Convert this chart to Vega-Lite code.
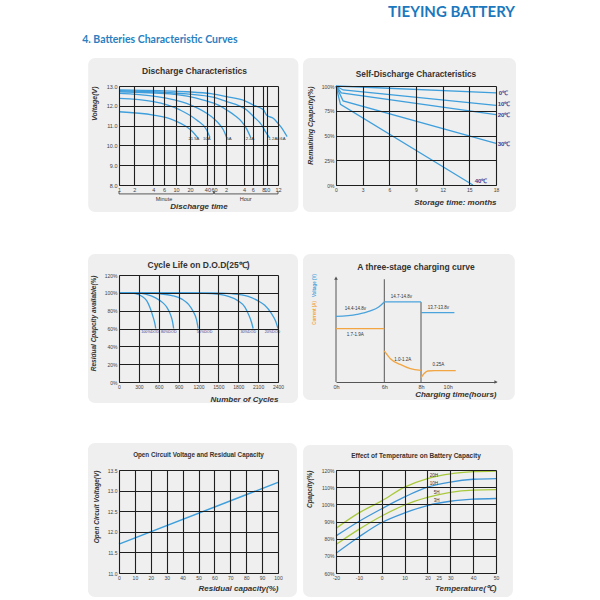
{
"$schema": "https://vega.github.io/schema/vega-lite/v6.json",
"background": "white",
"padding": {"left": 82, "top": 5, "right": 5, "bottom": 0},
"title": {"text": "TIEYING BATTERY", "anchor": "end", "frame": "bounds", "offset": -0.5, "dx": -1, "fontSize": 15, "font": "Lato", "fontWeight": "bold", "color": "#1b78be", "baseline": "bottom"},
"spacing": 40,
"datasets": {
"discharge": [
{"curve":"0.6A","min":1,"v":12.80},{"curve":"0.6A","min":5,"v":12.76},{"curve":"0.6A","min":16.9,"v":12.71},{"curve":"0.6A","min":50,"v":12.61},{"curve":"0.6A","min":123,"v":12.46},{"curve":"0.6A","min":250,"v":12.25},{"curve":"0.6A","min":366,"v":12.04},{"curve":"0.6A","min":480,"v":11.80},{"curve":"0.6A","min":600,"v":11.52},{"curve":"0.6A","min":670,"v":11.36},{"curve":"0.6A","min":730,"v":11.06},{"curve":"0.6A","min":768,"v":10.86},{"curve":"0.6A","min":800,"v":10.66},{"curve":"0.6A","min":835,"v":10.44},
{"curve":"1.2A","min":1,"v":12.76},{"curve":"1.2A","min":16.9,"v":12.60},{"curve":"1.2A","min":60,"v":12.42},{"curve":"1.2A","min":123,"v":12.21},{"curve":"1.2A","min":200,"v":12.00},{"curve":"1.2A","min":272,"v":11.79},{"curve":"1.2A","min":370,"v":11.45},{"curve":"1.2A","min":458,"v":11.03},{"curve":"1.2A","min":540,"v":10.72},{"curve":"1.2A","min":627,"v":10.39},
{"curve":"2.4A","min":1,"v":12.71},{"curve":"2.4A","min":7.75,"v":12.60},{"curve":"2.4A","min":34.1,"v":12.29},{"curve":"2.4A","min":80,"v":12.02},{"curve":"2.4A","min":123,"v":11.79},{"curve":"2.4A","min":170,"v":11.50},{"curve":"2.4A","min":219,"v":11.20},{"curve":"2.4A","min":270,"v":10.85},{"curve":"2.4A","min":328,"v":10.40},
{"curve":"5A","min":1,"v":12.63},{"curve":"5A","min":4,"v":12.49},{"curve":"5A","min":16.9,"v":12.12},{"curve":"5A","min":38.9,"v":11.62},{"curve":"5A","min":60,"v":11.35},{"curve":"5A","min":84.9,"v":11.03},{"curve":"5A","min":105,"v":10.75},{"curve":"5A","min":123,"v":10.40},
{"curve":"10A","min":1,"v":12.37},{"curve":"10A","min":4,"v":12.21},{"curve":"10A","min":12.2,"v":11.79},{"curve":"10A","min":26.1,"v":11.28},{"curve":"10A","min":38.9,"v":10.78},{"curve":"10A","min":46.9,"v":10.40},
{"curve":"21.5A","min":1,"v":11.70},{"curve":"21.5A","min":4,"v":11.53},{"curve":"21.5A","min":9,"v":11.28},{"curve":"21.5A","min":16.9,"v":10.94},{"curve":"21.5A","min":22,"v":10.70},{"curve":"21.5A","min":27.1,"v":10.39}
],
"dlabels": [
{"t":"21.5A","min":23.4,"v":10.34},{"t":"10A","min":38.9,"v":10.34},{"t":"5A","min":134.6,"v":10.34},{"t":"2.4A","min":317,"v":10.34},{"t":"1.2A","min":663,"v":10.34},{"t":"0.6A","min":758,"v":10.34}
],
"dunits": [{"t":"Minute","min":6,"v":7.29},{"t":"Hour","min":260,"v":7.29}],
"dbracket": [{"a":1,"b":58,"v":7.55},{"a":62,"b":720,"v":7.55}],
"dbticks": [{"min":1,"v":7.55,"v2":7.68},{"min":58,"v":7.55,"v2":7.68},{"min":62,"v":7.55,"v2":7.68},{"min":720,"v":7.55,"v2":7.68}],
"selfdis": [
{"temp":"0℃","m":0,"pct":100},{"temp":"0℃","m":18,"pct":93},
{"temp":"10℃","m":0,"pct":100},{"temp":"10℃","m":0.8,"pct":96},{"temp":"10℃","m":18,"pct":80.5},
{"temp":"20℃","m":0,"pct":100},{"temp":"20℃","m":0.6,"pct":93},{"temp":"20℃","m":18,"pct":71},
{"temp":"30℃","m":0,"pct":100},{"temp":"30℃","m":0.8,"pct":85},{"temp":"30℃","m":18,"pct":42},
{"temp":"40℃","m":0,"pct":100},{"temp":"40℃","m":0.5,"pct":81.5},{"temp":"40℃","m":15.4,"pct":0}
],
"slabels": [
{"t":"0℃","m":18.3,"pct":93.2},{"t":"10℃","m":18.2,"pct":81.5},{"t":"20℃","m":18.2,"pct":70.5},{"t":"30℃","m":18.2,"pct":41.4},{"t":"40℃","m":15.6,"pct":4.2}
],
"cycle": [
{"dod":"100%","n":0,"pct":100},{"dod":"100%","n":150,"pct":100},{"dod":"100%","n":250,"pct":99},{"dod":"100%","n":350,"pct":96},{"dod":"100%","n":420,"pct":91},{"dod":"100%","n":470,"pct":83},{"dod":"100%","n":510,"pct":74},{"dod":"100%","n":540,"pct":66},{"dod":"100%","n":555,"pct":60},
{"dod":"80%","n":0,"pct":100},{"dod":"80%","n":250,"pct":100},{"dod":"80%","n":400,"pct":98.5},{"dod":"80%","n":560,"pct":94},{"dod":"80%","n":660,"pct":89},{"dod":"80%","n":720,"pct":84},{"dod":"80%","n":780,"pct":75},{"dod":"80%","n":810,"pct":67},{"dod":"80%","n":825,"pct":60},
{"dod":"50%","n":0,"pct":100},{"dod":"50%","n":400,"pct":100},{"dod":"50%","n":600,"pct":99},{"dod":"50%","n":800,"pct":97},{"dod":"50%","n":950,"pct":93},{"dod":"50%","n":1050,"pct":87},{"dod":"50%","n":1120,"pct":79},{"dod":"50%","n":1170,"pct":70},{"dod":"50%","n":1195,"pct":60},
{"dod":"30%","n":0,"pct":100},{"dod":"30%","n":1000,"pct":100},{"dod":"30%","n":1400,"pct":99},{"dod":"30%","n":1650,"pct":96},{"dod":"30%","n":1800,"pct":91},{"dod":"30%","n":1900,"pct":84},{"dod":"30%","n":1960,"pct":75},{"dod":"30%","n":2000,"pct":67},{"dod":"30%","n":2025,"pct":60},
{"dod":"20%","n":0,"pct":100},{"dod":"20%","n":1400,"pct":100},{"dod":"20%","n":1700,"pct":99},{"dod":"20%","n":1950,"pct":96},{"dod":"20%","n":2100,"pct":91},{"dod":"20%","n":2200,"pct":86},{"dod":"20%","n":2300,"pct":77},{"dod":"20%","n":2360,"pct":69},{"dod":"20%","n":2400,"pct":60}
],
"clabels": [
{"t":"100%DOD","n":469,"pct":55.7},{"t":"80%DOD","n":751,"pct":55.7},{"t":"50%DOD","n":1292,"pct":55.7},{"t":"30%DOD","n":1951,"pct":55.7},{"t":"20%DOD","n":2316,"pct":55.7}
],
"charge": [
{"seg":"v1","kind":"V","h":0,"val":61.3},{"seg":"v1","kind":"V","h":2.6,"val":63.2},{"seg":"v1","kind":"V","h":4.26,"val":66.4},{"seg":"v1","kind":"V","h":5.3,"val":70.1},{"seg":"v1","kind":"V","h":6,"val":74.8},
{"seg":"v2","kind":"V","h":6,"val":74.8},{"seg":"v2","kind":"V","h":8,"val":74.8},
{"seg":"v3","kind":"V","h":8,"val":64.8},{"seg":"v3","kind":"V","h":10.5,"val":64.8},
{"seg":"a1","kind":"A","h":0,"val":49.8},{"seg":"a1","kind":"A","h":6,"val":49.8},
{"seg":"a2","kind":"A","h":6,"val":29},{"seg":"a2","kind":"A","h":6.33,"val":21.8},{"seg":"a2","kind":"A","h":6.87,"val":16.4},{"seg":"a2","kind":"A","h":7.42,"val":12.4},{"seg":"a2","kind":"A","h":8,"val":10.8},
{"seg":"a3","kind":"A","h":8,"val":4.0},{"seg":"a3","kind":"A","h":8.2,"val":7.5},{"seg":"a3","kind":"A","h":8.5,"val":10.3},{"seg":"a3","kind":"A","h":9,"val":10.6},{"seg":"a3","kind":"A","h":10.6,"val":10.6}
],
"chlabels": [
{"t":"14.4-14.8v","h":2.4,"val":68.5},{"t":"14.7-14.8v","h":6.93,"val":79.4},{"t":"13.7-13.8v","h":9.3,"val":69.4},{"t":"1.7-1.9A","h":2.4,"val":44.2},{"t":"1.0-1.2A","h":7.0,"val":20.2},{"t":"0.25A","h":9.3,"val":16.2}
],
"chtitles": [{"t":"Voltage (V)","kind":"V","h":-2.6,"val":90.2},{"t":"Current (A)","kind":"A","h":-2.6,"val":64.5}],
"chguides": [{"h":0,"y0":0,"y1":97},{"h":6,"y0":0,"y1":96},{"h":8,"y0":0,"y1":74.8}],
"ocv": [{"cap":0,"v":11.7},{"cap":100,"v":13.2}],
"temp": [
{"rate":"20H","t":-20,"pct":86},{"rate":"20H","t":-10,"pct":95},{"rate":"20H","t":0,"pct":102},{"rate":"20H","t":10,"pct":110},{"rate":"20H","t":20,"pct":115},{"rate":"20H","t":30,"pct":117.7},{"rate":"20H","t":40,"pct":119},{"rate":"20H","t":50,"pct":119.4},
{"rate":"10H","t":-20,"pct":81.6},{"rate":"10H","t":-10,"pct":90},{"rate":"10H","t":0,"pct":97.4},{"rate":"10H","t":10,"pct":104.3},{"rate":"10H","t":20,"pct":110},{"rate":"10H","t":30,"pct":113},{"rate":"10H","t":40,"pct":114.6},{"rate":"10H","t":50,"pct":115},
{"rate":"5H","t":-20,"pct":76.6},{"rate":"5H","t":-10,"pct":85.4},{"rate":"5H","t":0,"pct":93.2},{"rate":"5H","t":10,"pct":99.6},{"rate":"5H","t":20,"pct":104},{"rate":"5H","t":30,"pct":107},{"rate":"5H","t":40,"pct":108.3},{"rate":"5H","t":50,"pct":108.6},
{"rate":"3H","t":-20,"pct":71.5},{"rate":"3H","t":-10,"pct":81},{"rate":"3H","t":0,"pct":89.4},{"rate":"3H","t":10,"pct":95},{"rate":"3H","t":20,"pct":99.3},{"rate":"3H","t":30,"pct":101.8},{"rate":"3H","t":40,"pct":103},{"rate":"3H","t":50,"pct":103.4}
],
"tlabels": [{"t":"20H","tt":22.8,"pct":116.4},{"t":"10H","tt":22.8,"pct":111.6},{"t":"5H","tt":24,"pct":106.8},{"t":"3H","tt":24,"pct":102.2}]
},
"vconcat": [
{
"title": {"text": "4. Batteries Characteristic Curves", "anchor": "start", "frame": "bounds", "offset": 2.5, "dx": -6, "fontSize": 10.5, "font": "Lato", "fontWeight": "bold", "color": "#2a7fc0", "baseline": "bottom"},
"spacing": 58,
"bounds": "flush",
"hconcat": [
{
"width": 159, "height": 99,
"title": {"text": "Discharge Characteristics", "fontSize": 8.5, "offset": -17, "dx": -4},
"layer": [
{"data": {"values": [{}]}, "mark": {"type": "rect", "fill": "#efefef", "cornerRadius": 7},
 "encoding": {
  "x": {"datum": 0.25, "type": "quantitative", "scale": {"type": "log", "domain": [1,2,4,6,10,20,40,60,120,240,360,480,600,720], "range": [0,15.4,34.4,45,57,71,88.4,95,107,125,133.7,144.4,147.7,159], "nice": false},
        "axis": {"zindex": 1, "tickCount": 40, "values": [1,2,4,6,10,20,40,60,120,240,360,480,600,720], "labelExpr": "datum.value >= 120 ? datum.value / 60 : datum.value", "title": "Discharge time", "titleFontSize": 8, "titleY": 23.5, "titleBaseline": "alphabetic", "labelFontSize": 5.5}},
  "x2": {"datum": 1000},
  "y": {"datum": 14.41, "type": "quantitative", "scale": {"domain": [8, 13], "nice": false, "zero": false},
        "axis": {"zindex": 1, "tickCount": 40, "values": [8,9,10,11,12,13], "format": ".1f", "title": "Voltage(V)", "titleAnchor": "end", "titleX": -22, "labelFontSize": 5.5}},
  "y2": {"datum": 6.64}
 }},
{"data": {"name": "discharge"}, "mark": {"type": "line", "interpolate": "monotone", "color": "#3e9fdc", "strokeWidth": 1.3, "clip": false},
 "encoding": {"x": {"field": "min", "type": "quantitative"}, "y": {"field": "v", "type": "quantitative"}, "detail": {"field": "curve"}}},
{"data": {"name": "dlabels"}, "mark": {"type": "text", "fontSize": 4.2, "color": "#333", "font": "Liberation Sans", "clip": false},
 "encoding": {"x": {"field": "min", "type": "quantitative"}, "y": {"field": "v", "type": "quantitative"}, "text": {"field": "t"}}},
{"data": {"name": "dunits"}, "mark": {"type": "text", "fontSize": 5.5, "color": "#333", "font": "Liberation Sans", "clip": false},
 "encoding": {"x": {"field": "min", "type": "quantitative"}, "y": {"field": "v", "type": "quantitative"}, "text": {"field": "t"}}},
{"data": {"name": "dbracket"}, "mark": {"type": "rule", "color": "#333", "strokeWidth": 0.8, "clip": false},
 "encoding": {"x": {"field": "a", "type": "quantitative"}, "x2": {"field": "b"}, "y": {"field": "v", "type": "quantitative"}}},
{"data": {"name": "dbticks"}, "mark": {"type": "rule", "color": "#333", "strokeWidth": 0.8, "clip": false},
 "encoding": {"x": {"field": "min", "type": "quantitative"}, "y": {"field": "v", "type": "quantitative"}, "y2": {"field": "v2"}}}
]
},
{
"width": 160, "height": 99,
"title": {"text": "Self-Discharge Characteristics", "fontSize": 8.3, "offset": -20.5},
"layer": [
{"data": {"values": [{}]}, "mark": {"type": "rect", "fill": "#efefef", "cornerRadius": 7},
 "encoding": {
  "x": {"datum": -3.71, "type": "quantitative", "scale": {"domain": [0, 18], "nice": false},
        "axis": {"zindex": 1, "tickCount": 40, "values": [0,3,6,9,12,15,18], "format": "d", "title": "Storage time: months", "titleAnchor": "end", "titleFontSize": 8, "titleY": 19.5, "titleBaseline": "alphabetic"}},
  "x2": {"datum": 20.25},
  "y": {"datum": 128.3, "type": "quantitative", "scale": {"domain": [0, 100], "nice": false},
        "axis": {"zindex": 1, "tickCount": 40, "values": [0,25,50,75,100], "labelExpr": "datum.value + '%'", "title": "Remaining Cpapcity(%)", "titleAnchor": "end", "titleX": -22.5}},
  "y2": {"datum": -27.3}
 }},
{"data": {"name": "selfdis"}, "mark": {"type": "line", "color": "#3e9fdc", "strokeWidth": 1.3, "clip": false},
 "encoding": {"x": {"field": "m", "type": "quantitative"}, "y": {"field": "pct", "type": "quantitative"}, "detail": {"field": "temp"}}},
{"data": {"name": "slabels"}, "mark": {"type": "text", "align": "left", "fontSize": 6, "fontWeight": "bold", "color": "#3b3b8f", "font": "Liberation Sans", "clip": false},
 "encoding": {"x": {"field": "m", "type": "quantitative"}, "y": {"field": "pct", "type": "quantitative"}, "text": {"field": "t"}}}
]
}
]
},
{
"spacing": 58,
"bounds": "flush",
"hconcat": [
{
"width": 159, "height": 107,
"title": {"text": "Cycle Life on D.O.D(25℃)", "fontSize": 8.5, "offset": -15.5},
"layer": [
{"data": {"values": [{}]}, "mark": {"type": "rect", "fill": "#efefef", "cornerRadius": 7},
 "encoding": {
  "x": {"datum": -468, "type": "quantitative", "scale": {"domain": [0, 2400], "nice": false},
        "axis": {"zindex": 1, "tickCount": 40, "values": [0,300,600,900,1200,1500,1800,2100,2400], "format": "d", "title": "Number of Cycles", "titleAnchor": "end", "titleFontSize": 8, "titleY": 19, "titleBaseline": "alphabetic"}},
  "x2": {"datum": 2702},
  "y": {"datum": 143.6, "type": "quantitative", "scale": {"domain": [0, 120], "nice": false},
        "axis": {"zindex": 1, "tickCount": 40, "values": [0,20,40,60,80,100,120], "labelExpr": "datum.value + '%'", "title": "Residual Cpapcity available(%)", "titleFontSize": 6.5, "titleAnchor": "end", "titleX": -22.5}},
  "y2": {"datum": -23.5}
 }},
{"data": {"name": "cycle"}, "mark": {"type": "line", "interpolate": "monotone", "color": "#3e9fdc", "strokeWidth": 1.3, "clip": false},
 "encoding": {"x": {"field": "n", "type": "quantitative"}, "y": {"field": "pct", "type": "quantitative"}, "detail": {"field": "dod"}}},
{"data": {"name": "clabels"}, "mark": {"type": "text", "fontSize": 3.7, "color": "#3b3b8f", "font": "Liberation Sans", "clip": false},
 "encoding": {"x": {"field": "n", "type": "quantitative"}, "y": {"field": "pct", "type": "quantitative"}, "text": {"field": "t"}}}
]
},
{
"width": 160, "height": 107,
"title": {"text": "A three-stage charging curve", "fontSize": 8.5, "offset": -17.8},
"layer": [
{"data": {"values": [{}]}, "mark": {"type": "rect", "fill": "#efefef", "cornerRadius": 7},
 "encoding": {
  "x": {"datum": -4.1, "type": "quantitative", "scale": {"domain": [0, 6, 8, 10, 13.6], "range": [0, 48.3, 85, 111.7, 160], "nice": false, "zero": false},
        "axis": {"zindex": 1, "tickCount": 40, "values": [0, 6, 8, 10], "labelExpr": "datum.value + 'h'", "grid": false, "domainColor": "#555", "labelFontSize": 5.5, "title": "Charging time(hours)", "titleAnchor": "end", "titleFontSize": 8, "titleY": 14.5, "titleBaseline": "alphabetic"}},
  "x2": {"datum": 15.0},
  "y": {"datum": 119.6, "type": "quantitative", "scale": {"domain": [0, 100], "nice": false}, "axis": null},
  "y2": {"datum": -16.8}
 }},
{"data": {"name": "chguides"}, "mark": {"type": "rule", "color": "#555", "strokeWidth": 1},
 "encoding": {"x": {"field": "h", "type": "quantitative"}, "y": {"field": "y0", "type": "quantitative"}, "y2": {"field": "y1"}}},
{"data": {"values": [{"h": 0, "val": 97}]}, "mark": {"type": "point", "shape": "triangle-up", "filled": true, "color": "#555", "size": 14, "opacity": 1},
 "encoding": {"x": {"field": "h", "type": "quantitative"}, "y": {"field": "val", "type": "quantitative"}}},
{"data": {"values": [{"h": 13.6, "val": 0}]}, "mark": {"type": "point", "shape": "triangle-right", "filled": true, "color": "#555", "size": 14, "opacity": 1, "clip": false},
 "encoding": {"x": {"field": "h", "type": "quantitative"}, "y": {"field": "val", "type": "quantitative"}}},
{"data": {"name": "charge"}, "transform": [{"filter": "datum.kind === 'V'"}], "mark": {"type": "line", "interpolate": "monotone", "strokeWidth": 1.3, "color": "#4aa3dc", "clip": false},
 "encoding": {"x": {"field": "h", "type": "quantitative"}, "y": {"field": "val", "type": "quantitative"}, "detail": {"field": "seg"}}},
{"data": {"name": "charge"}, "transform": [{"filter": "datum.kind === 'A'"}], "mark": {"type": "line", "interpolate": "monotone", "strokeWidth": 1.3, "color": "#f2a541", "clip": false},
 "encoding": {"x": {"field": "h", "type": "quantitative"}, "y": {"field": "val", "type": "quantitative"}, "detail": {"field": "seg"}}},
{"data": {"name": "chlabels"}, "mark": {"type": "text", "fontSize": 4.5, "color": "#333", "font": "Liberation Sans", "clip": false},
 "encoding": {"x": {"field": "h", "type": "quantitative"}, "y": {"field": "val", "type": "quantitative"}, "text": {"field": "t"}}},
{"data": {"name": "chtitles"}, "transform": [{"filter": "datum.kind === 'V'"}], "mark": {"type": "text", "angle": 270, "fontSize": 4.5, "fontWeight": "bold", "font": "Liberation Sans", "color": "#4aa3dc", "clip": false},
 "encoding": {"x": {"field": "h", "type": "quantitative"}, "y": {"field": "val", "type": "quantitative"}, "text": {"field": "t"}}},
{"data": {"name": "chtitles"}, "transform": [{"filter": "datum.kind === 'A'"}], "mark": {"type": "text", "angle": 270, "fontSize": 4.5, "fontWeight": "bold", "font": "Liberation Sans", "color": "#f2a541", "clip": false},
 "encoding": {"x": {"field": "h", "type": "quantitative"}, "y": {"field": "val", "type": "quantitative"}, "text": {"field": "t"}}}
]
}
]
},
{
"spacing": 58,
"bounds": "flush",
"hconcat": [
{
"width": 159, "height": 103,
"title": {"text": "Open Circuit Voltage and Residual Capacity", "fontSize": 6.3, "offset": -15.5},
"layer": [
{"data": {"values": [{}]}, "mark": {"type": "rect", "fill": "#efefef", "cornerRadius": 7},
 "encoding": {
  "x": {"datum": -19.5, "type": "quantitative", "scale": {"domain": [0, 100], "nice": false},
        "axis": {"zindex": 1, "tickCount": 40, "values": [0,10,20,30,40,50,60,70,80,90,100], "format": "d", "title": "Residual capacity(%)", "titleAnchor": "end", "titleFontSize": 8, "titleY": 17, "titleBaseline": "alphabetic"}},
  "x2": {"datum": 111.9},
  "y": {"datum": 14.155, "type": "quantitative", "scale": {"domain": [11, 13.5], "nice": false, "zero": false},
        "axis": {"zindex": 1, "tickCount": 40, "values": [11,11.5,12,12.5,13,13.5], "format": ".1f", "title": "Open Circuit Voltage(V)", "titleFontSize": 6.5, "titleAnchor": "end", "titleX": -20}},
  "y2": {"datum": 10.417}
 }},
{"data": {"name": "ocv"}, "mark": {"type": "line", "color": "#3e9fdc", "strokeWidth": 1.5, "clip": false},
 "encoding": {"x": {"field": "cap", "type": "quantitative"}, "y": {"field": "v", "type": "quantitative"}}}
]
},
{
"width": 160, "height": 103,
"title": {"text": "Effect of Temperature on Battery Capacity", "fontSize": 6.5, "offset": -14.8},
"layer": [
{"data": {"values": [{}]}, "mark": {"type": "rect", "fill": "#efefef", "cornerRadius": 7},
 "encoding": {
  "x": {"datum": -34.4, "type": "quantitative", "scale": {"domain": [-20, 50], "nice": false, "zero": false},
        "axis": {"zindex": 1, "tickCount": 40, "values": [-20,-10,0,10,20,25,30,40,50], "labelExpr": "datum.value", "gridOpacity": {"condition": {"test": "datum.value === 25", "value": 0}, "value": 1}, "title": "Temperature(℃)", "titleAnchor": "end", "titleFontSize": 8, "titleY": 17, "titleBaseline": "alphabetic"}},
  "x2": {"datum": 57.4},
  "y": {"datum": 134.6, "type": "quantitative", "scale": {"domain": [60, 120], "nice": false, "zero": false},
        "axis": {"zindex": 1, "tickCount": 40, "values": [60,70,80,90,100,110,120], "labelExpr": "datum.value + '%'", "title": "Cpapcity(%)", "titleFontSize": 6.5, "titleAnchor": "end", "titleX": -23.7}},
  "y2": {"datum": 46.0}
 }},
{"data": {"name": "temp"}, "transform": [{"filter": "datum.rate === '20H' || datum.rate === '5H'"}], "mark": {"type": "line", "interpolate": "monotone", "strokeWidth": 1.3, "color": "#a9c93c", "clip": false},
 "encoding": {"x": {"field": "t", "type": "quantitative"}, "y": {"field": "pct", "type": "quantitative"}, "detail": {"field": "rate"}}},
{"data": {"name": "temp"}, "transform": [{"filter": "datum.rate === '10H' || datum.rate === '3H'"}], "mark": {"type": "line", "interpolate": "monotone", "strokeWidth": 1.3, "color": "#3e96d6", "clip": false},
 "encoding": {"x": {"field": "t", "type": "quantitative"}, "y": {"field": "pct", "type": "quantitative"}, "detail": {"field": "rate"}}},
{"data": {"name": "tlabels"}, "mark": {"type": "text", "fontSize": 4.5, "color": "#333", "font": "Liberation Sans", "clip": false},
 "encoding": {"x": {"field": "tt", "type": "quantitative"}, "y": {"field": "pct", "type": "quantitative"}, "text": {"field": "t"}}}
]
}
]
}
],
"config": {
 "font": "Liberation Sans",
 "axis": {"grid": true, "gridColor": "#1e1e1e", "gridWidth": 1.1, "domainColor": "#1e1e1e", "domainWidth": 1, "ticks": false, "labelFont": "Liberation Sans", "labelFontSize": 5, "labelColor": "#444", "labelPadding": 2, "labelFlush": false, "labelOverlap": false, "titleFont": "Liberation Sans", "titleFontSize": 7, "titleFontWeight": "bold", "titleFontStyle": "italic", "titleColor": "#333"},
 "view": {"stroke": null},
 "title": {"font": "Liberation Sans", "fontWeight": "bold", "color": "#333", "baseline": "bottom", "frame": "group", "anchor": "middle"}
}
}
